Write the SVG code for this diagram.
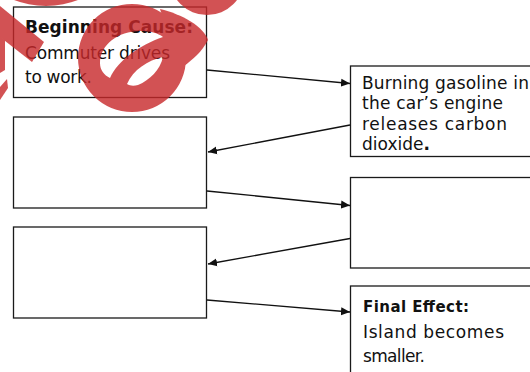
<svg xmlns="http://www.w3.org/2000/svg" width="530" height="372" viewBox="0 0 530 372">
<style>
.box{fill:#fff;stroke:#1a1a1a;stroke-width:1.3}
.t{font-family:"DejaVu Sans","Liberation Sans",sans-serif;font-size:17px;fill:#111}
.b{font-family:"DejaVu Sans","Liberation Sans",sans-serif;font-weight:bold;fill:#111}
.c{stroke:#111;stroke-width:1.3;fill:none;marker-end:url(#ah)}
</style>
<defs>
<marker id="ah" markerUnits="userSpaceOnUse" markerWidth="10" markerHeight="10" viewBox="0 0 10 10" refX="9" refY="5" orient="auto">
<path d="M0,1 L9,5 L0,9 Z" fill="#111"/>
</marker>
</defs>
<rect width="530" height="372" fill="#fff"/>
<g id="n1">
<rect class="box" x="13.5" y="7" width="193" height="90.5"/>
<text class="b" x="25" y="33" font-size="17" textLength="168" lengthAdjust="spacing">Beginning Cause:</text>
<text class="t" x="25" y="59" textLength="145" lengthAdjust="spacing">Commuter drives</text>
<text class="t" x="25" y="83" textLength="67" lengthAdjust="spacing">to work.</text>
</g>
<g id="n2">
<rect class="box" x="350.5" y="66" width="190" height="90.5"/>
<text class="t" x="362" y="88.5" textLength="167" lengthAdjust="spacing">Burning gasoline in</text>
<text class="t" x="362" y="109" textLength="141" lengthAdjust="spacing">the car’s engine</text>
<text class="t" x="362" y="129.5" textLength="145" lengthAdjust="spacing">releases carbon</text>
<text class="t" x="362" y="150" textLength="68" lengthAdjust="spacing">dioxide<tspan font-weight="bold">.</tspan></text>
</g>
<g id="n3">
<rect class="box" x="13.5" y="117" width="193" height="91"/>
</g>
<g id="n4">
<rect class="box" x="350.5" y="177.5" width="190" height="90.5"/>
</g>
<g id="n5">
<rect class="box" x="13.5" y="227" width="193" height="91"/>
</g>
<g id="n6">
<rect class="box" x="350.5" y="286" width="190" height="100"/>
<text class="b" x="363" y="312" font-size="15" textLength="106" lengthAdjust="spacing">Final Effect:</text>
<text class="t" x="363" y="337.5" font-size="16" textLength="141" lengthAdjust="spacing">Island becomes</text>
<text class="t" x="363" y="361.5" font-size="16" textLength="62" lengthAdjust="spacing">smaller.</text>
</g>
<g id="connectors">
<line class="c" x1="207" y1="70" x2="350" y2="83.5"/>
<line class="c" x1="350" y1="125" x2="208" y2="152"/>
<line class="c" x1="207" y1="191" x2="350" y2="205.5"/>
<line class="c" x1="350" y1="238.5" x2="208" y2="264"/>
<line class="c" x1="207" y1="300" x2="350" y2="312"/>
</g>
<g id="watermark" fill="#c8282a" opacity="0.8">
<path fill-rule="evenodd" d="M78,58 A54,54 0 1 0 186,58 A54,54 0 1 0 78,58 Z M100,63 C100,45 118,31 140,31 C150,31 158,33 163,37 C140,45 118,60 110,78 C104,75 100,70 100,63 Z M127,84 C133,70 148,60 163,57 C160,70 150,80 138,85 C134,86 130,86 127,84 Z"/>
<path d="M160,9 C182,14 204,27 208,40 C202,52 192,60 184,66 L170,40 Z"/>
<circle cx="46" cy="-82" r="88"/>
<circle cx="207" cy="-22.5" r="37.5"/>
<polygon points="0,6 44,42 32,62 0,37"/>
<polygon points="0,36 5,40 5,70 0,73"/>
<polygon points="0,87 7,79 8,88 0,100"/>
</g>
</svg>
